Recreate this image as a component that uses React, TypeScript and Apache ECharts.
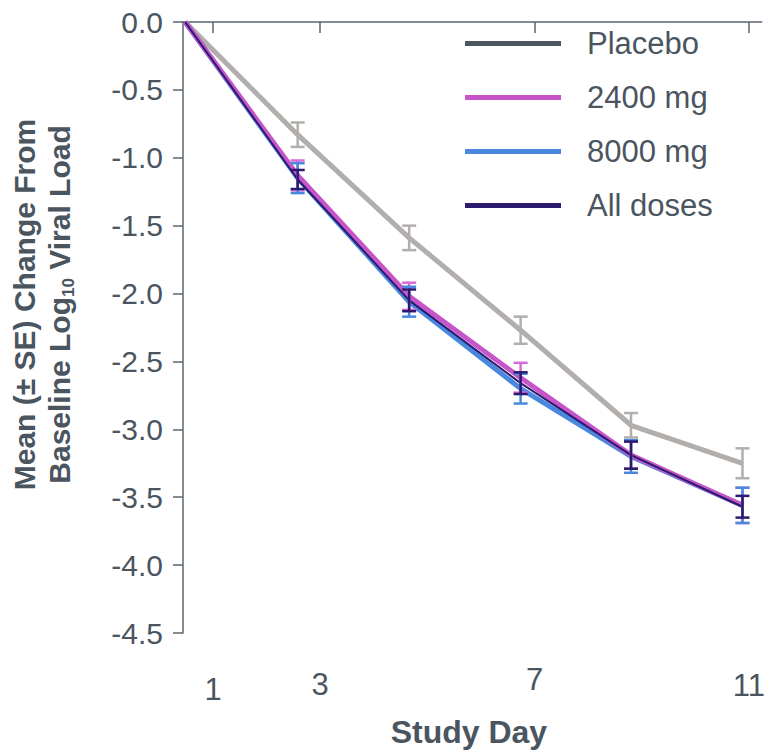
import React, { useEffect, useRef } from "react";
import * as echarts from "echarts";

const days = [0.48, 2.58, 4.66, 6.74, 8.8, 10.88];
const xTickValues = [1, 3, 7, 11];
const seriesNames = ["Placebo", "2400 mg", "8000 mg", "All doses"];
const placeboMean = [0, -0.83, -1.59, -2.27, -2.97, -3.25];
const placeboSE = [0, 0.09, 0.09, 0.1, 0.09, 0.11];
const mg2400Mean = [0, -1.13, -2.02, -2.62, -3.19, -3.56];
const mg2400SE = [0, 0.11, 0.1, 0.11, 0.1, 0.13];
const mg8000Mean = [0, -1.15, -2.06, -2.7, -3.2, -3.56];
const mg8000SE = [0, 0.11, 0.11, 0.11, 0.12, 0.13];
const allMean = [0, -1.16, -2.05, -2.66, -3.19, -3.57];
const allSE = [0, 0.07, 0.08, 0.08, 0.1, 0.08];

const TEXT = "#4a5560";
const AXIS = "#5a6570";
const FONT = "Liberation Sans, Arial, sans-serif";

export default function App() {
  const ref = useRef<HTMLDivElement>(null);
  useEffect(() => {
    if (!ref.current) return;
    const chart = echarts.init(ref.current, undefined, { renderer: "svg" });
    const lineData = (m: number[]) => days.map((d, i) => [d, m[i]]);
    const errData = (m: number[], s: number[]) =>
      days.map((d, i) => [d, m[i] - s[i], m[i] + s[i]]).filter((_, i) => s[i] > 0);
    const errSeries = (name: string, m: number[], s: number[], color: string, z: number) => ({
      type: "custom",
      name,
      z,
      data: errData(m, s),
      renderItem: (params: any, api: any) => {
        const x = api.value(0);
        const top = api.coord([x, api.value(2)]);
        const bot = api.coord([x, api.value(1)]);
        const hw = 7;
        const st = { stroke: color, lineWidth: 2.5 };
        return {
          type: "group",
          children: [
            { type: "line", shape: { x1: top[0], y1: top[1], x2: bot[0], y2: bot[1] }, style: st },
            { type: "line", shape: { x1: top[0] - hw, y1: top[1], x2: top[0] + hw, y2: top[1] }, style: st },
            { type: "line", shape: { x1: bot[0] - hw, y1: bot[1], x2: bot[0] + hw, y2: bot[1] }, style: st },
          ],
        };
      },
    });
    const lineSeries = (name: string, m: number[], color: string, width: number, z: number) => ({
      type: "line",
      name,
      z,
      data: lineData(m),
      showSymbol: false,
      symbol: "none",
      lineStyle: { color, width },
      itemStyle: { color },
    });
    const xRich: any = {};
    const xPad: Record<number, number> = { 1: 10, 3: 5, 7: 0, 11: 6 };
    xTickValues.forEach((v) => {
      xRich["p" + v] = { fontSize: 31, color: TEXT, fontFamily: FONT, padding: [xPad[v], 0, 0, 0] };
    });
    chart.setOption({
      animation: false,
      grid: { left: 183, top: 22, right: 3, bottom: 118 },
      legend: {
        orient: "vertical",
        left: 460,
        top: 23,
        icon: "rect",
        itemWidth: 96,
        itemHeight: 5,
        itemGap: 23,
        textStyle: { color: TEXT, fontSize: 31, fontFamily: FONT, lineHeight: 30, padding: [0, 0, 0, 21] },
        data: [
          { name: seriesNames[0], itemStyle: { color: "#4b5660" } },
          { name: seriesNames[1], itemStyle: { color: "#c655c9" } },
          { name: seriesNames[2], itemStyle: { color: "#4a88e0" } },
          { name: seriesNames[3], itemStyle: { color: "#2b1a6e" } },
        ],
      },
      xAxis: {
        type: "value",
        min: 0.44,
        max: 11.24,
        name: "Study Day",
        nameLocation: "middle",
        nameGap: 83,
        nameTextStyle: { color: TEXT, fontSize: 32, fontWeight: "bold", fontFamily: FONT, padding: [0, 7, 0, 0] },
        axisLine: { lineStyle: { color: AXIS, width: 1.5 } },
        axisTick: { show: true, length: 11, customValues: xTickValues, lineStyle: { color: AXIS, width: 1.5 } },
        axisLabel: {
          customValues: xTickValues,
          margin: 31,
          color: TEXT,
          fontSize: 31,
          fontFamily: FONT,
          formatter: (v: number) => `{p${v}|${v}}`,
          rich: xRich,
        },
        splitLine: { show: false },
      },
      yAxis: {
        type: "value",
        min: -4.5,
        max: 0,
        interval: 0.5,
        name: "{a|Mean (± SE) Change From}\n{a|Baseline Log}{s|10}{a| Viral Load}",
        nameLocation: "middle",
        nameRotate: 90,
        nameGap: 106,
        nameTextStyle: {
          color: TEXT,
          padding: [0, 0, 0, 46],
          rich: {
            a: { fontSize: 30, fontWeight: "bold", color: TEXT, fontFamily: FONT, lineHeight: 35 },
            s: { fontSize: 17, fontWeight: "bold", color: TEXT, fontFamily: FONT, verticalAlign: "bottom", lineHeight: 35 },
          },
        },
        axisLine: { show: true, lineStyle: { color: AXIS, width: 1.5 } },
        axisTick: { show: true, length: 10, inside: false, lineStyle: { color: AXIS, width: 1.5 } },
        axisLabel: {
          margin: 20,
          color: TEXT,
          fontSize: 30,
          fontFamily: FONT,
          formatter: (v: number) => v.toFixed(1),
        },
        splitLine: { show: false },
      },
      series: [
        lineSeries(seriesNames[0], placeboMean, "#b1aeac", 5, 2),
        lineSeries(seriesNames[2], mg8000Mean, "#4a88e0", 5, 3),
        lineSeries(seriesNames[1], mg2400Mean, "#c655c9", 5, 4),
        lineSeries(seriesNames[3], allMean, "#2b1a6e", 2, 5),
        errSeries("Placebo SE", placeboMean, placeboSE, "#b1aeac", 6),
        errSeries("2400 mg SE", mg2400Mean, mg2400SE, "#d66bd8", 7),
        errSeries("8000 mg SE", mg8000Mean, mg8000SE, "#4a88e0", 8),
        errSeries("All doses SE", allMean, allSE, "#2b1a6e", 9),
      ],
    });
    return () => chart.dispose();
  }, []);
  return <div ref={ref} style={{ width: 768, height: 753, position: "absolute", left: 0, top: 0 }} />;
}
